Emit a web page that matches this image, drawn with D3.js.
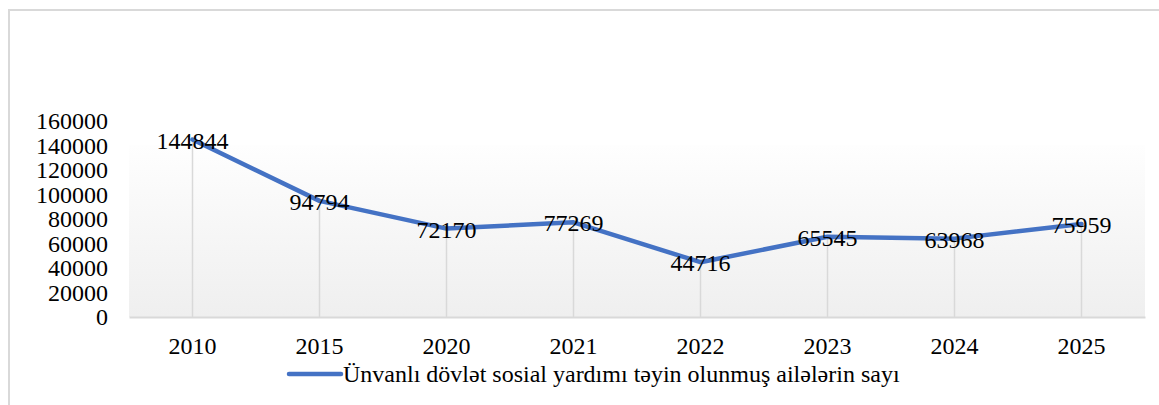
<!DOCTYPE html>
<html>
<head>
<meta charset="utf-8">
<script src="https://cdn.jsdelivr.net/npm/d3@7"></script>
<style>
  body { margin: 0; background: #fff; }
</style>
</head>
<body>
<div id="chart"></div>
<script>
const w = 1159;
const h = 405;
const serif = "'Times New Roman', 'Liberation Serif', Times, 'DejaVu Serif', serif";

// data
const years = ['2010', '2015', '2020', '2021', '2022', '2023', '2024', '2025'];
const families = [144844, 94794, 72170, 77269, 44716, 65545, 63968, 75959];
const yTicks = [0, 20000, 40000, 60000, 80000, 100000, 120000, 140000, 160000];
const seriesName = 'Ünvanlı dövlət sosial yardımı təyin olunmuş ailələrin sayı';

const plotLeft = 129;
const plotRight = 1145;
const plotTop = 145;
const baseY = 317;

const xScale = d3.scaleBand()
  .domain(years)
  .range([plotLeft, plotRight]);
const yScale = d3.scaleLinear()
  .domain([0, 160000])
  .range([baseY, 121]);

const svg = d3.select('#chart')
  .append('svg')
  .attr('width', w)
  .attr('height', h)
  .attr('font-family', serif);

// outer frame
svg.append('rect')
  .attr('x', 9)
  .attr('y', 10)
  .attr('width', w + 20)
  .attr('height', h + 20)
  .attr('fill', 'none')
  .attr('stroke', '#d9d9d9')
  .attr('stroke-width', 2);

// plot area gradient
const grad = svg.append('defs').append('linearGradient')
  .attr('id', 'plotBg')
  .attr('x1', 0).attr('y1', 0).attr('x2', 0).attr('y2', 1);
grad.append('stop').attr('offset', '0%').attr('stop-color', '#fefefe');
grad.append('stop').attr('offset', '100%').attr('stop-color', '#efefef');

svg.append('rect')
  .attr('x', plotLeft)
  .attr('y', plotTop)
  .attr('width', plotRight - plotLeft)
  .attr('height', baseY - plotTop)
  .attr('fill', 'url(#plotBg)');

const cx = (d, i) => xScale(years[i]) + xScale.bandwidth() / 2;

// drop lines
svg.selectAll('line.drop')
  .data(families)
  .enter()
  .append('line')
  .attr('class', 'drop')
  .attr('x1', cx)
  .attr('x2', cx)
  .attr('y1', (d) => yScale(d))
  .attr('y2', baseY)
  .attr('stroke', '#d9d9d9')
  .attr('stroke-width', 1.5);

// x-axis
const xAxis = svg.append('g')
  .attr('transform', 'translate(0,' + baseY + ')')
  .call(d3.axisBottom(xScale).tickSize(0).tickPadding(20));
xAxis.attr('font-family', serif).attr('font-size', 24);
xAxis.select('.domain').attr('stroke', '#d9d9d9').attr('stroke-width', 2);
xAxis.selectAll('text').attr('fill', '#000');

// y-axis labels
const yAxis = svg.append('g')
  .attr('transform', 'translate(' + plotLeft + ',0)')
  .call(d3.axisLeft(yScale).tickValues(yTicks).tickFormat(d3.format('d')).tickSize(0).tickPadding(21));
yAxis.attr('font-family', serif).attr('font-size', 24);
yAxis.select('.domain').remove();
yAxis.selectAll('text').attr('fill', '#000');

// line
svg.append('path')
  .datum(families)
  .attr('fill', 'none')
  .attr('stroke', '#4472c4')
  .attr('stroke-width', 4.5)
  .attr('stroke-linejoin', 'round')
  .attr('stroke-linecap', 'round')
  .attr('d', d3.line()
    .x(cx)
    .y((d) => yScale(d)));

// data labels
svg.selectAll('text.lbl')
  .data(families)
  .enter()
  .append('text')
  .attr('class', 'lbl')
  .attr('x', cx)
  .attr('y', (d) => yScale(d) + 1)
  .attr('text-anchor', 'middle')
  .attr('dominant-baseline', 'central')
  .attr('font-size', 24)
  .text((d) => d);

// legend
svg.append('line')
  .attr('x1', 289)
  .attr('x2', 341)
  .attr('y1', 374)
  .attr('y2', 374)
  .attr('stroke', '#4472c4')
  .attr('stroke-width', 4.5)
  .attr('stroke-linecap', 'round');

svg.append('text')
  .attr('x', 343)
  .attr('y', 382)
  .attr('font-size', 24)
  .text(seriesName);
</script>
</body>
</html>
